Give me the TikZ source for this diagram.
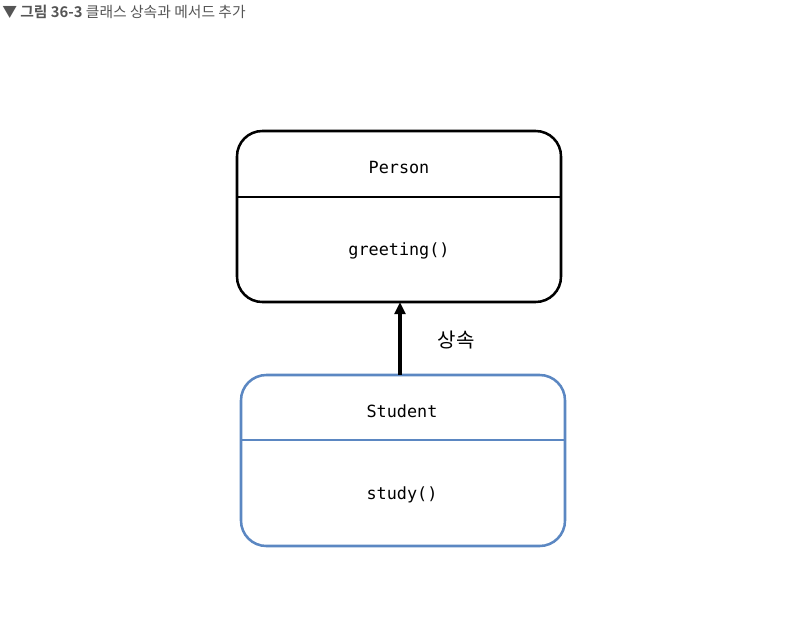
\documentclass[tikz,border=0pt]{standalone}
\usepackage{fontspec}
\newfontfamily\cjk{Noto Sans CJK KR}
\newfontfamily\cjkb{Noto Sans CJK KR Bold}
\newfontfamily\code{DejaVu Sans Mono}
\usetikzlibrary{arrows.meta}
\definecolor{titlegray}{HTML}{555555}
\definecolor{stublue}{HTML}{5B87C2}
\tikzset{
  classbox/.style={rounded corners=19pt, line width=1.9pt},
  classtext/.style={font=\code\fontsize{12.6}{14}\selectfont, inner sep=0pt},
}
\begin{document}
\begin{tikzpicture}[x=0.75pt,y=-0.75pt]
\useasboundingbox (0,0) rectangle (788,622);
\node[anchor=west, inner sep=0pt, text=titlegray, font=\cjk\fontsize{11.1}{13}\selectfont] (title) at (2,12) {▼ {\cjkb 그림 36-3} 클래스 상속과 메서드 추가};
% Person
\draw[classbox] (237,131) rectangle (561,302);
\coordinate (pl) at (237,197);
\coordinate (pr) at (561,197);
\draw[line width=1.9pt] (pl) -- (pr);
\node[classtext] (pname) at (399,167) {Person};
\node[classtext] (pmeth) at (399,251) {greeting()};
\coordinate (ptop) at (400,302);
% Student
\draw[classbox, draw=stublue] (241,375) rectangle (565,546);
\coordinate (sl) at (241,440);
\coordinate (sr) at (565,440);
\draw[line width=1.9pt, draw=stublue] (sl) -- (sr);
\node[classtext] (sname) at (402,411) {Student};
\node[classtext] (smeth) at (402,495) {study()};
\coordinate (sbot) at (400,375);
% arrow
\draw[line width=2.6pt, -{Triangle[length=9pt,width=8pt]}] (sbot) -- (ptop);
\node[font=\cjk\fontsize{15}{17}\selectfont, inner sep=0pt] (inh) at (456,340) {상속};
\end{tikzpicture}
\end{document}
